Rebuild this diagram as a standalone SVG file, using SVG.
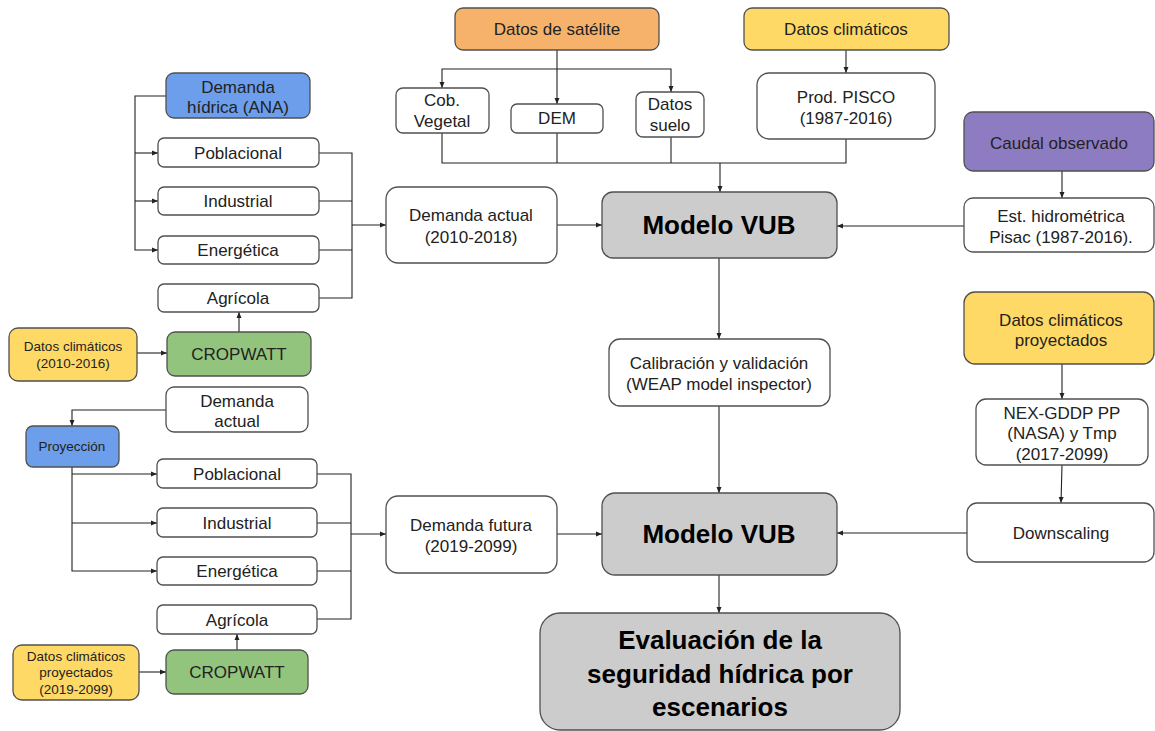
<svg xmlns="http://www.w3.org/2000/svg" width="1155" height="731" viewBox="0 0 1155 731">
<defs>
<marker id="ah" markerUnits="userSpaceOnUse" markerWidth="8" markerHeight="8" viewBox="0 0 8 8" refX="7" refY="4" orient="auto">
<path d="M1,1.5 L7,4 L1,6.5 Z" fill="#222"/>
</marker>
<style>
.b{stroke:#505050;stroke-width:1.3;fill:#ffffff}
.w{fill:#ffffff}
.or{fill:#f6b26b}
.ye{fill:#ffd966}
.bl{fill:#6d9eeb}
.gr{fill:#93c47d}
.pu{fill:#8e7cc3}
.gy{fill:#cccccc}
text{font-family:"Liberation Sans",Arial,sans-serif;font-size:17px;fill:#222;text-anchor:middle}
.s{font-size:13.5px}
.big{font-size:26px;font-weight:bold;fill:#000}
.c path{fill:none;stroke:#222;stroke-width:1.1}
.c .a{marker-end:url(#ah)}
</style>
</defs>
<rect width="1155" height="731" fill="#ffffff"/>

<g class="c" id="connectors">
<path class="a" d="M557 50 V104"/>
<path class="a" d="M557 69 H442 V88"/>
<path class="a" d="M557 69 H671 V92"/>
<path d="M442 133 V163 H846 V139"/>
<path d="M557 133 V163"/>
<path d="M671 137 V163"/>
<path class="a" d="M720 163 V192"/>
<path class="a" d="M846 50 V73"/>
<path class="a" d="M166 96 H135 V250 H158"/>
<path class="a" d="M135 153 H158"/>
<path class="a" d="M135 201 H158"/>
<path d="M319 153 H352 V298 H319"/>
<path d="M319 201 H352"/>
<path d="M319 250 H352"/>
<path class="a" d="M352 225 H386"/>
<path class="a" d="M239 332 V312"/>
<path class="a" d="M137 353 H167"/>
<path class="a" d="M557 225 H602"/>
<path class="a" d="M964 226 H837"/>
<path class="a" d="M1062 171 V198"/>
<path class="a" d="M719 258 V339"/>
<path class="a" d="M719 406 V493"/>
<path class="a" d="M719 575 V613"/>
<path class="a" d="M1062 364 V399"/>
<path class="a" d="M1062 465 L1061 503"/>
<path class="a" d="M967 533 H837"/>
<path class="a" d="M557 534 H602"/>
<path class="a" d="M166 410 H72 V426"/>
<path class="a" d="M72 467 V571 H157"/>
<path class="a" d="M72 474 H157"/>
<path class="a" d="M72 523 H157"/>
<path d="M317 474 H351 V619 H317"/>
<path d="M317 523 H351"/>
<path d="M317 571 H351"/>
<path class="a" d="M351 534 H386"/>
<path class="a" d="M237 650 V634"/>
<path class="a" d="M139 672 H166"/>
</g>

<g id="sat"><rect class="b or" x="455" y="8" width="204" height="42" rx="8"/><text x="557" y="35">Datos de satélite</text></g>
<g id="clima"><rect class="b ye" x="744" y="8" width="205" height="42" rx="8"/><text x="846" y="35">Datos climáticos</text></g>
<g id="cob"><rect class="b" x="396" y="88" width="93" height="45" rx="7"/><text x="442" y="106">Cob.</text><text x="442" y="127">Vegetal</text></g>
<g id="dem"><rect class="b" x="511" y="104" width="92" height="29" rx="6"/><text x="557" y="124">DEM</text></g>
<g id="suelo"><rect class="b" x="636" y="92" width="68" height="45" rx="7"/><text x="670" y="110">Datos</text><text x="670" y="131">suelo</text></g>
<g id="pisco"><rect class="b" x="757" y="73" width="178" height="66" rx="12"/><text x="846" y="103">Prod. PISCO</text><text x="846" y="124">(1987-2016)</text></g>

<g id="ana"><rect class="b bl" x="166" y="73" width="144" height="45" rx="8"/><text x="238" y="93">Demanda</text><text x="238" y="113">hídrica (ANA)</text></g>
<g id="pob1"><rect class="b" x="158" y="138" width="161" height="29" rx="6"/><text x="238" y="159">Poblacional</text></g>
<g id="ind1"><rect class="b" x="158" y="187" width="161" height="28" rx="6"/><text x="238" y="207">Industrial</text></g>
<g id="ene1"><rect class="b" x="158" y="236" width="161" height="28" rx="6"/><text x="238" y="256">Energética</text></g>
<g id="agr1"><rect class="b" x="158" y="284" width="161" height="28" rx="6"/><text x="238" y="304">Agrícola</text></g>
<g id="crop1"><rect class="b gr" x="167" y="332" width="144" height="44" rx="8"/><text x="239" y="360">CROPWATT</text></g>
<g id="clim1"><rect class="b ye" x="9" y="328" width="128" height="53" rx="9"/><text class="s" x="73" y="351">Datos climáticos</text><text class="s" x="73" y="368">(2010-2016)</text></g>

<g id="dact"><rect class="b" x="386" y="187" width="171" height="76" rx="12"/><text x="471" y="221">Demanda actual</text><text x="471" y="243">(2010-2018)</text></g>
<g id="vub1"><rect class="b gy" x="602" y="192" width="235" height="66" rx="11"/><text class="big" x="719" y="234">Modelo VUB</text></g>
<g id="caudal"><rect class="b pu" x="964" y="112" width="190" height="59" rx="9"/><text x="1059" y="149">Caudal observado</text></g>
<g id="est"><rect class="b" x="964" y="198" width="190" height="54" rx="9"/><text x="1061" y="222">Est. hidrométrica</text><text x="1061" y="243">Pisac (1987-2016).</text></g>
<g id="calib"><rect class="b" x="609" y="339" width="221" height="67" rx="11"/><text x="719" y="369">Calibración y validación</text><text x="719" y="390">(WEAP model inspector)</text></g>
<g id="climp"><rect class="b ye" x="964" y="292" width="190" height="72" rx="11"/><text x="1061" y="326">Datos climáticos</text><text x="1061" y="346">proyectados</text></g>
<g id="nex"><rect class="b" x="976" y="399" width="172" height="66" rx="10"/><text x="1062" y="419">NEX-GDDP PP</text><text x="1062" y="439">(NASA) y Tmp</text><text x="1062" y="460">(2017-2099)</text></g>
<g id="down"><rect class="b" x="967" y="503" width="187" height="59" rx="10"/><text x="1061" y="539">Downscaling</text></g>

<g id="dact2"><rect class="b" x="166" y="387" width="142" height="45" rx="8"/><text x="237" y="407">Demanda</text><text x="237" y="427">actual</text></g>
<g id="proy"><rect class="b bl" x="26" y="426" width="93" height="41" rx="7"/><text class="s" x="72" y="451">Proyección</text></g>
<g id="pob2"><rect class="b" x="157" y="459" width="160" height="29" rx="6"/><text x="237" y="480">Poblacional</text></g>
<g id="ind2"><rect class="b" x="157" y="508" width="160" height="29" rx="6"/><text x="237" y="529">Industrial</text></g>
<g id="ene2"><rect class="b" x="157" y="557" width="160" height="28" rx="6"/><text x="237" y="577">Energética</text></g>
<g id="agr2"><rect class="b" x="157" y="605" width="160" height="29" rx="6"/><text x="237" y="626">Agrícola</text></g>
<g id="crop2"><rect class="b gr" x="166" y="650" width="142" height="44" rx="8"/><text x="237" y="678">CROPWATT</text></g>
<g id="clim2"><rect class="b ye" x="13" y="645" width="126" height="55" rx="9"/><text class="s" x="76" y="661">Datos climáticos</text><text class="s" x="76" y="677">proyectados</text><text class="s" x="76" y="694">(2019-2099)</text></g>

<g id="dfut"><rect class="b" x="386" y="496" width="171" height="77" rx="12"/><text x="471" y="531">Demanda futura</text><text x="471" y="552">(2019-2099)</text></g>
<g id="vub2"><rect class="b gy" x="602" y="493" width="235" height="82" rx="13"/><text class="big" x="719" y="543">Modelo VUB</text></g>
<g id="eval"><rect class="b gy" x="540" y="613" width="360" height="117" rx="20"/><text class="big" x="720" y="649">Evaluación de la</text><text class="big" x="720" y="683">seguridad hídrica por</text><text class="big" x="720" y="716">escenarios</text></g>
</svg>
